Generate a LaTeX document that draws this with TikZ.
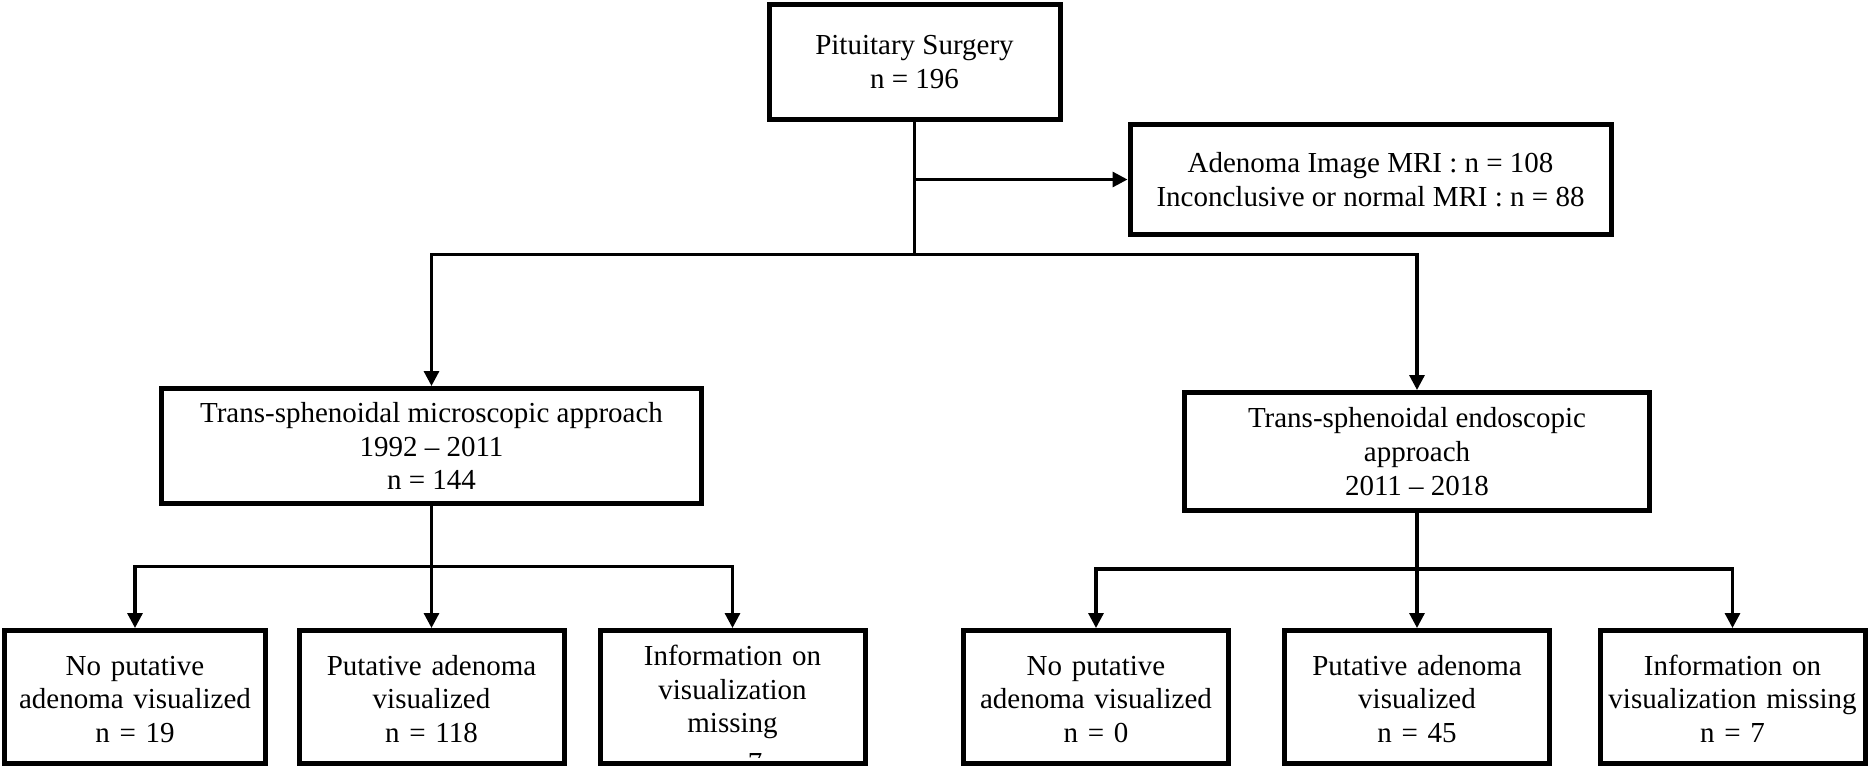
\documentclass[tikz,border=0pt]{standalone}
\usepackage{fontspec}
\setmainfont{Liberation Serif}
\usetikzlibrary{arrows.meta,positioning}
\tikzset{%
boxfont/.style={font=\fontsize{14.5pt}{16.8pt}\selectfont},
boxnode/.style={rectangle, draw=black, line width=2.5pt, align=center, inner sep=0pt, boxfont},
leafnode/.style={boxnode, minimum width=132.5pt, minimum height=66.5pt, text width=126pt, text height=22.25pt, text depth=44.25pt},
pt/.style={draw=black, line width=1.6pt, -{Triangle[length=7.5pt,width=7.5pt]}},
bid/.style={draw=black, line width=1.6pt, -}
}

\begin{document}
\begin{tikzpicture}[x=0.5pt,y=-0.5pt]
		\useasboundingbox (0,0) rectangle (1869,767);
		\clip (0,0) rectangle (1869,767);
		\node[boxnode, minimum width=145.5pt, minimum height=57.5pt] (surg) at (914.5,62) {Pituitary Surgery\\ n = 196};
		\node[boxnode, minimum width=240.5pt, minimum height=55pt] (mri) at (1370.5,179.5) {Adenoma Image MRI : n = 108\\ Inconclusive or normal MRI : n = 88};
		\node[boxnode, minimum width=270pt, minimum height=57.5pt] (micro) at (431.5,446) {Trans-sphenoidal microscopic approach\\ 1992 -- 2011\\ n = 144};
		\node[boxnode, minimum width=232.5pt, minimum height=59pt] (endo) at (1417,451.5) {Trans-sphenoidal endoscopic\\ approach\\ 2011 -- 2018};
		
		\node[leafnode, minimum width=130.5pt] (mnone) at (135,697) {No putative\\ adenoma visualized\\ n = 19};
		\node[leafnode] (mput) at (431.5,697) {Putative adenoma\\ visualized\\ n = 118};
		\node[leafnode, text height=17.5pt, text depth=49pt] (mmiss) at (732.5,697) {Information on\\ visualization\\ missing};
		\node[leafnode] (enone) at (1096,697) {No putative\\ adenoma visualized\\ n = 0};
		\node[leafnode] (eput) at (1417,697) {Putative adenoma\\ visualized\\ n = 45};
		\node[leafnode] (emiss) at (1732.5,697) {Information on\\ visualization missing\\ n = 7};
		\begin{scope}
			\clip (mmiss.north west) rectangle (mmiss.east |- 0,757);
			\node[boxfont, inner sep=0pt, anchor=base] (mmissn) at (732.5,772) {n = 7};
		\end{scope}
		
		\coordinate (top) at (914.5,254.5);
		\coordinate (lft) at (431.5,566.5);
		\coordinate (rgt) at (1417,569);
		
		\path[pt] (surg.south |- mri.west) -- (mri.west);
		\path[pt] (surg.south) -- (top) -| (micro.north);
		\path[pt] (top) -| (endo.north);
		
		\path[pt] (micro.south) -- (lft) -| (mnone.north);
		\path[pt] (lft) -- (mput.north);
		\path[pt] (lft) -| (mmiss.north);
		
		\path[pt] (endo.south) -- (rgt) -| (enone.north);
		\path[pt] (rgt) -- (eput.north);
		\path[pt] (rgt) -| (emiss.north);
	\end{tikzpicture}
\end{document}
